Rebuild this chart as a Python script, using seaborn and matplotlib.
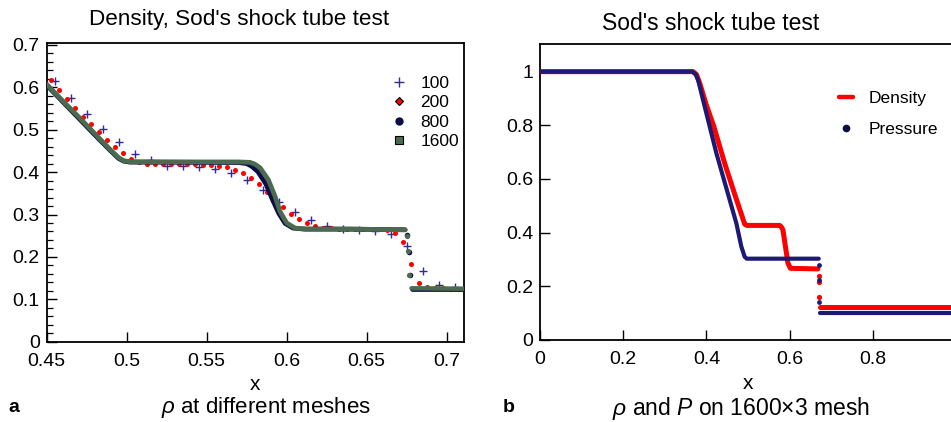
import matplotlib
matplotlib.use("Agg")
import matplotlib.pyplot as plt
from matplotlib.lines import Line2D
from matplotlib.ticker import MultipleLocator, FuncFormatter
import seaborn as sns

# ---- panel a: density at different meshes ----
x100 = [0.455, 0.465, 0.475, 0.485, 0.495, 0.505, 0.515, 0.525, 0.535, 0.545, 0.555, 0.565, 0.575,
        0.585, 0.595, 0.605, 0.615, 0.625, 0.635, 0.645, 0.655, 0.665, 0.675, 0.685, 0.695, 0.705]
rho100 = [0.615, 0.575, 0.538, 0.502, 0.470, 0.443, 0.428, 0.415, 0.414, 0.411, 0.408, 0.398, 0.381,
          0.357, 0.330, 0.306, 0.286, 0.274, 0.266, 0.263, 0.261, 0.255, 0.226, 0.167, 0.133, 0.128]

x200 = [0.4525, 0.4575, 0.4625, 0.4675, 0.4725, 0.4775, 0.4825, 0.4875, 0.4925, 0.4975, 0.5025,
        0.5075, 0.5125, 0.5175, 0.5225, 0.5275, 0.5325, 0.5375, 0.5425, 0.5475, 0.5525, 0.5575,
        0.5625, 0.5675, 0.5725, 0.5775, 0.5825, 0.5875, 0.5925, 0.5975, 0.6025, 0.6075, 0.6125,
        0.6175, 0.6225, 0.6275, 0.6325, 0.6375, 0.6425, 0.6475, 0.6525, 0.6575, 0.6625, 0.6675,
        0.6725, 0.6775, 0.6825, 0.6875, 0.6925, 0.6975, 0.7025, 0.7075]
rho200 = [0.617, 0.594, 0.572, 0.552, 0.531, 0.513, 0.494, 0.476, 0.460, 0.445, 0.431,
          0.423, 0.419, 0.418, 0.418, 0.418, 0.418, 0.418, 0.418, 0.417, 0.416, 0.414,
          0.411, 0.406, 0.398, 0.385, 0.371, 0.354, 0.335, 0.317, 0.302, 0.289, 0.280,
          0.273, 0.269, 0.267, 0.266, 0.266, 0.266, 0.266, 0.265, 0.265, 0.264, 0.257,
          0.236, 0.184, 0.139, 0.130, 0.127, 0.126, 0.125, 0.125]

x800 = [0.450, 0.460, 0.470, 0.480, 0.490, 0.495, 0.498, 0.502, 0.520, 0.570, 0.575, 0.578,
        0.582, 0.587, 0.591, 0.595, 0.599, 0.604, 0.611, 0.640, 0.674]
rho800 = [0.605, 0.566, 0.527, 0.488, 0.450, 0.432, 0.426, 0.4235, 0.4235, 0.4225, 0.420, 0.414,
          0.401, 0.372, 0.336, 0.303, 0.279, 0.268, 0.2655, 0.2655, 0.264]
x800_shock = [0.675, 0.6766, 0.677]
rho800_shock = [0.251, 0.211, 0.158]
x800_post = [0.678, 0.711]
rho800_post = [0.125, 0.125]

x1600 = [0.450, 0.460, 0.470, 0.480, 0.490, 0.495, 0.498, 0.502, 0.520, 0.570, 0.577, 0.580,
         0.5834, 0.5885, 0.5927, 0.5958, 0.600, 0.6052, 0.6125, 0.640, 0.674]
rho1600 = [0.607, 0.568, 0.530, 0.491, 0.452, 0.434, 0.427, 0.4245, 0.424, 0.424, 0.423, 0.419,
           0.410, 0.382, 0.343, 0.307, 0.280, 0.268, 0.2657, 0.2655, 0.264]
x1600_shock = [0.675, 0.676, 0.6767]
rho1600_shock = [0.250, 0.213, 0.157]
x1600_post = [0.678, 0.711]
rho1600_post = [0.126, 0.125]

# ---- panel b: density and pressure on 1600x3 mesh ----
xd = [0.0, 0.368, 0.376, 0.384, 0.400, 0.418, 0.444, 0.470, 0.492, 0.497, 0.576, 0.580,
      0.584, 0.590, 0.596, 0.602, 0.668]
dens = [1.0, 1.0, 0.99, 0.957, 0.875, 0.795, 0.658, 0.534, 0.432, 0.427, 0.427, 0.422,
        0.41, 0.348, 0.286, 0.267, 0.265]
xd_shock = [0.6704, 0.6704, 0.6704]
dens_shock = [0.24, 0.217, 0.161]
xd_post = [0.672, 1.0]
dens_post = [0.124, 0.124]

xp = [0.0, 0.366, 0.374, 0.380, 0.392, 0.408, 0.424, 0.440, 0.456, 0.472, 0.484, 0.492,
      0.497, 0.670]
pres = [1.0, 1.0, 0.99, 0.969, 0.894, 0.795, 0.696, 0.609, 0.522, 0.435, 0.348, 0.310,
        0.303, 0.303]
xp_shock = [0.6704, 0.6704, 0.6704]
pres_shock = [0.28, 0.224, 0.143]
xp_post = [0.672, 1.0]
pres_post = [0.102, 0.102]

sns.set_theme(style="ticks")
plt.rcParams["font.family"] = ["Liberation Sans", "DejaVu Sans"]
plt.rcParams["mathtext.fontset"] = "custom"
plt.rcParams["mathtext.rm"] = "Liberation Sans"
plt.rcParams["mathtext.it"] = "Liberation Sans:italic"
for k in ("text.color", "axes.labelcolor", "xtick.color", "ytick.color", "axes.edgecolor"):
    plt.rcParams[k] = "black"

navy = "#1d1a76"
plus_navy = "#2e2c96"
dark_navy = "#0e0c45"
red = "#ff0000"
green = "#4b6b50"

fig = plt.figure(figsize=(9.51, 4.22), dpi=100)
W, H = 951, 422
ax1 = fig.add_axes([46.7 / W, 1 - 341.7 / H, (464 - 46.7) / W, (341.7 - 43) / H])
ax2 = fig.add_axes([540 / W, 1 - 340 / H, (956 - 540) / W, (340 - 44) / H])

# panel a
sns.scatterplot(x=x100, y=rho100, marker="+", s=34, color=plus_navy, linewidth=1.0, ax=ax1, zorder=3)
sns.scatterplot(x=x200, y=rho200, marker="o", s=13, color=red, linewidth=0, ax=ax1, zorder=3)
sns.lineplot(x=x800, y=rho800, color=dark_navy, lw=3.4, ax=ax1, zorder=4)
sns.scatterplot(x=x800_shock, y=rho800_shock, color=dark_navy, s=16, linewidth=0, ax=ax1, zorder=4)
sns.lineplot(x=x800_post, y=rho800_post, color=dark_navy, lw=3.4, ax=ax1, zorder=4)
sns.lineplot(x=x1600, y=rho1600, color=green, lw=3.4, ax=ax1, zorder=5)
sns.scatterplot(x=x1600_shock, y=rho1600_shock, color=green, s=14, linewidth=0, ax=ax1, zorder=5)
sns.lineplot(x=x1600_post, y=rho1600_post, color=green, lw=3.2, ax=ax1, zorder=5)

ax1.set_xlim(0.45, 0.7108)
ax1.set_ylim(0, 0.7045)
ax1.xaxis.set_major_locator(MultipleLocator(0.05))
ax1.yaxis.set_major_locator(MultipleLocator(0.1))
ax1.yaxis.set_minor_locator(MultipleLocator(0.02))
fmt = FuncFormatter(lambda v, p: "%g" % round(v, 3))
ax1.xaxis.set_major_formatter(fmt)
ax1.yaxis.set_major_formatter(fmt)

h1 = [Line2D([], [], ls="", marker="+", color=plus_navy, ms=7, mew=1.0),
      Line2D([], [], ls="", marker="D", mfc=red, mec="black", ms=4.5, mew=0.8),
      Line2D([], [], ls="", marker="o", color=dark_navy, ms=5),
      Line2D([], [], ls="", marker="s", mfc=green, mec="black", ms=6, mew=0.8)]
ax1.legend(h1, ["100", "200", "800", "1600"], loc="upper left",
           bbox_to_anchor=(382 / W, 1 - 67 / H), bbox_transform=fig.transFigure,
           frameon=False, fontsize=12.5, handlelength=1.0, handletextpad=0.7,
           labelspacing=0.25, borderpad=0)

# panel b
sns.lineplot(x=xd, y=dens, color=red, lw=3.6, ax=ax2, zorder=3)
sns.scatterplot(x=xd_shock, y=dens_shock, color=red, s=14, linewidth=0, ax=ax2, zorder=3)
sns.lineplot(x=xd_post, y=dens_post, color=red, lw=3.6, ax=ax2, zorder=3)
sns.lineplot(x=xp, y=pres, color=navy, lw=3.0, ax=ax2, zorder=4)
sns.scatterplot(x=xp_shock, y=pres_shock, color=navy, s=12, linewidth=0, ax=ax2, zorder=4)
sns.lineplot(x=xp_post, y=pres_post, color=navy, lw=3.0, ax=ax2, zorder=4)

ax2.set_xlim(0, 1)
ax2.set_ylim(0, 1.103)
ax2.xaxis.set_major_locator(MultipleLocator(0.2))
ax2.yaxis.set_major_locator(MultipleLocator(0.2))
ax2.xaxis.set_major_formatter(fmt)
ax2.yaxis.set_major_formatter(fmt)

h2 = [Line2D([], [], color=red, lw=3.2),
      Line2D([], [], ls="", marker="o", color=dark_navy, ms=4.5)]
ax2.legend(h2, ["Density", "Pressure"], loc="upper left",
           bbox_to_anchor=(830 / W, 1 - 82 / H), bbox_transform=fig.transFigure,
           frameon=False, fontsize=12.5, handlelength=0.85, handletextpad=0.9,
           labelspacing=0.95, borderpad=0)

for ax in (ax1, ax2):
    ax.tick_params(which="major", direction="in", length=7, width=1.0, labelsize=14,
                   top=False, right=False, pad=8)
    ax.tick_params(which="major", axis="y", pad=5)
    ax.tick_params(which="minor", direction="in", length=4, width=0.9, top=False, right=False)
    for s in ax.spines.values():
        s.set_linewidth(1.3)
        s.set_color("black")
    ax.set_xlabel("x", fontsize=15, labelpad=4)
    ax.set_ylabel("")
    ax.grid(False)

fig.text(239 / W, 1 - 20 / H, "Density, Sod's shock tube test", ha="center", va="center", fontsize=16.2)
fig.text(711 / W, 1 - 24 / H, "Sod's shock tube test", ha="center", va="center", fontsize=16.5)
fig.text(8 / W, 1 - 408 / H, "a", ha="left", va="center", fontsize=14, fontweight="bold")
fig.text(266 / W, 1 - 408 / H, r"$\rho$ at different meshes", ha="center", va="center", fontsize=16)
fig.text(503 / W, 1 - 408 / H, "b", ha="left", va="center", fontsize=14, fontweight="bold")
fig.text(741 / W, 1 - 408 / H, r"$\rho$ and $P$ on 1600×3 mesh", ha="center", va="center", fontsize=16.5)

fig.savefig("out.png", dpi=100)
